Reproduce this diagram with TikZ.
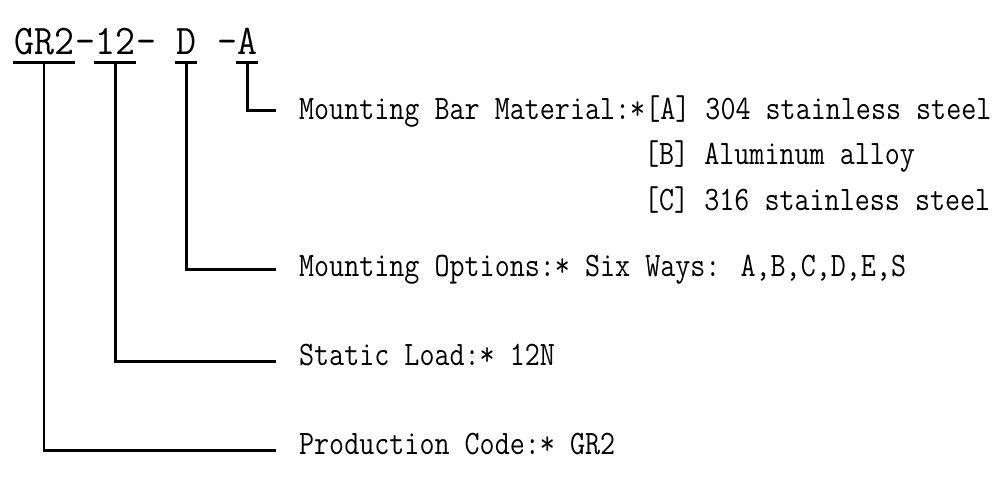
\documentclass[tikz,border=0pt]{standalone}
\begin{document}
\begin{tikzpicture}[x=0.02cm, y=-0.02cm, line width=1.5pt,
  pn/.style={font=\ttfamily\fontsize{24}{28}\selectfont, inner sep=0pt, xscale=0.92, anchor=base west},
  pnpart/.style={pn, text depth=0pt, inner ysep=4pt},
  desc/.style={font=\ttfamily\fontsize{19.5}{23}\selectfont, inner sep=0pt, xscale=0.853, anchor=base west}]
\useasboundingbox (0,0) rectangle (1000,480);

% part number
\node[pnpart] (code) at (13,54) {GR2};
\node[pn] (dash1) at (74,54) {-};
\node[pnpart] (load) at (94,54) {12};
\node[pn] (dash2) at (135,54) {-};
\node[pnpart] (mount) at (175,54) {D};
\node[pn] (dash3) at (216,54) {-};
\node[pnpart] (mat) at (236,54) {A};

\foreach \n in {code,load,mount,mat}
  \draw (\n.south west) -- (\n.south east);

% descriptions
\node[desc] (matdesc) at (298,119) {Mounting Bar Material:*[A] 304 stainless steel};
\node[desc] (matb) at (643,164) {[B] Aluminum alloy};
\node[desc] (matc) at (643,210) {[C] 316 stainless steel};
\node[desc] (mountdesc) at (298,276) {Mounting Options:* Six Ways: A,B,C,D,E,S};
\node[desc] (loaddesc) at (298,365) {Static Load:* 12N};
\node[desc] (codedesc) at (298,454) {Production Code:* GR2};

\draw (mat.south) |- ([xshift=-0.44cm, yshift=0.1cm]matdesc.mid west);
\draw (mount.south) |- ([xshift=-0.44cm, yshift=0.05cm]mountdesc.mid west);
\draw (load.south) |- ([xshift=-0.44cm]loaddesc.mid west);
\draw (code.south) |- ([xshift=-0.44cm]codedesc.mid west);
\end{tikzpicture}
\end{document}
